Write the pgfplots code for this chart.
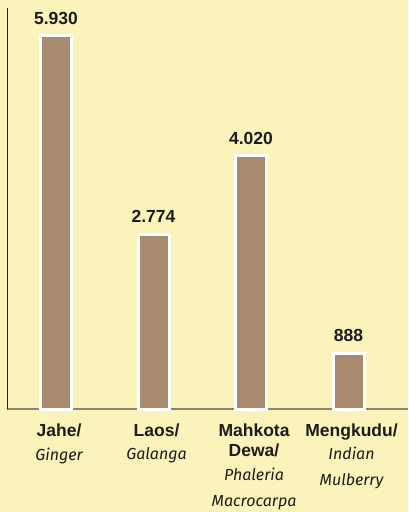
\documentclass[border=0pt]{standalone}
\usepackage{fontspec}
\setmainfont{Liberation Sans}
\newfontfamily\hand{Fira Sans}
\usepackage{pgfplots}
\pgfplotsset{compat=1.18}
\definecolor{bgc}{RGB}{251,244,186}
\definecolor{barc}{RGB}{168,139,110}
\definecolor{txt}{RGB}{28,28,28}
\definecolor{baseline}{RGB}{140,132,112}
\newcommand{\hw}[1]{{\hand\mdseries\itshape\fontsize{16}{20}\selectfont #1}}

\begin{document}
\begin{tikzpicture}
\fill[bgc] (0,0) rectangle (408pt,512pt);
\useasboundingbox (0,0) rectangle (408pt,512pt);
\begin{axis}[
  at={(7pt,103pt)}, anchor=south west,
  scale only axis, width=401pt, height=401pt,
  xmin=-0.503, xmax=3.61,
  ymin=0, ymax=6367,
  axis x line=bottom, axis y line=left,
  x axis line style={-, draw=baseline, line width=1.3pt},
  y axis line style={-, draw=txt, line width=0.9pt},
  ytick=\empty,
  xtick={0,1,2,3},
  major tick length=0pt,
  xticklabels={
    {Jahe/\\[4pt]\hw{Ginger}},
    {Laos/\\[3pt]\hw{Galanga}},
    {Mahkota\\Dewa/\\[4pt]\hw{Phaleria}\\[6pt]\hw{Macrocarpa}},
    {Mengkudu/\\[3pt]\hw{Indian}\\[6pt]\hw{Mulberry}}},
  xticklabel style={align=center, anchor=north, inner sep=0pt, yshift=-15pt, xshift=3pt,
    font=\bfseries\fontsize{17.5}{20}\selectfont, text=txt},
  clip=false,
  ybar, bar width=31pt,
  point meta=explicit symbolic,
  nodes near coords,
  every node near coord/.append style={anchor=base, inner sep=0pt, yshift=11.5pt,
    font=\bfseries\fontsize{17.5}{20}\selectfont, text=txt},
]
\addplot[fill=barc, draw=white, line width=3pt] coordinates {
  (0,5930) [5.930]
  (1,2774) [2.774]
  (2,4020) [4.020]
  (3,888) [888]
};
\end{axis}
\end{tikzpicture}
\end{document}
